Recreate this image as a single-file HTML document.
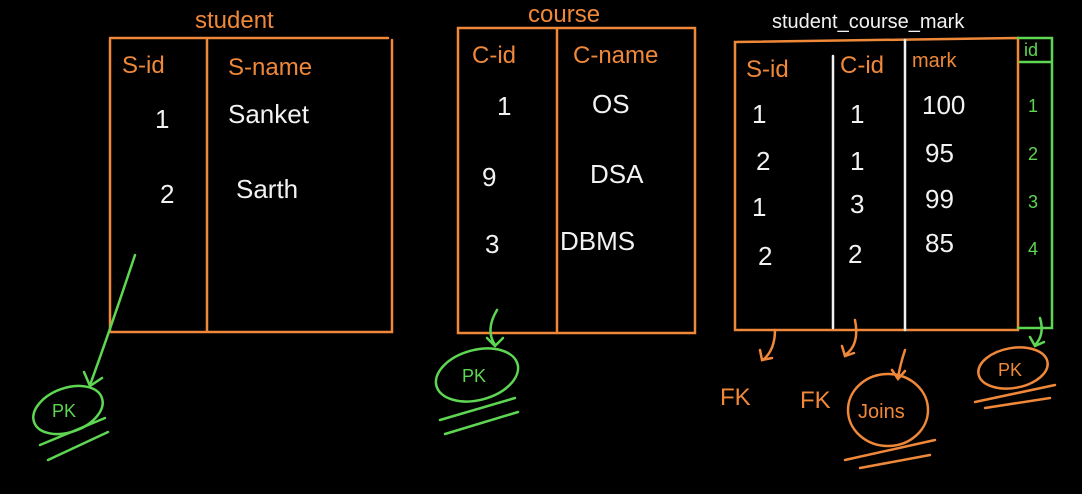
<!DOCTYPE html>
<html><head><meta charset="utf-8"><style>
html,body{margin:0;padding:0;background:#000;width:1082px;height:494px;overflow:hidden}
svg{display:block}
text{font-family:"Liberation Sans",sans-serif}
.o{stroke:#f0883a;fill:none;stroke-width:2.5;stroke-linecap:round}
.w{stroke:#f2f2f2;fill:none;stroke-width:2.5;stroke-linecap:round}
.g{stroke:#5ed653;fill:none;stroke-width:2.5;stroke-linecap:round}
.to{fill:#f0883a;font-size:24px}
.tw{fill:#f2f2f2;font-size:26px}
.tg{fill:#5ed653;font-size:18px}
</style></head><body>
<svg width="1082" height="494" viewBox="0 0 1082 494">
<!-- student table -->
<g>
<text class="to" x="195" y="28">student</text>
<path class="o" d="M110 38 L388 38 M110 40 L110 332 L392 332 L392 40 M207 40 L207 332"/>
<text class="to" x="122" y="73">S-id</text>
<text class="to" x="228" y="75">S-name</text>
<text class="tw" x="155" y="128">1</text><text class="tw" x="228" y="123">Sanket</text>
<text class="tw" x="160" y="203">2</text><text class="tw" x="236" y="198">Sarth</text>
<path class="g" d="M135 255 Q110 330 90 385 M84 372 L90 386 L102 378"/>
<ellipse class="g" cx="68" cy="410" rx="36" ry="22" transform="rotate(-20 68 410)"/>
<text class="tg" x="52" y="417">PK</text>
<path class="g" d="M40 445 L105 418 M48 460 L108 432"/>
</g>
<!-- course table -->
<g>
<text class="to" x="528" y="22">course</text>
<path class="o" d="M458 28 L695 28 L695 333 L458 333 Z M557 28 L557 333"/>
<text class="to" x="472" y="63">C-id</text>
<text class="to" x="573" y="63">C-name</text>
<text class="tw" x="497" y="115">1</text><text class="tw" x="592" y="113">OS</text>
<text class="tw" x="482" y="186">9</text><text class="tw" x="590" y="183">DSA</text>
<text class="tw" x="485" y="253">3</text><text class="tw" x="560" y="250">DBMS</text>
<path class="g" d="M497 310 Q485 330 495 345 M487 338 L495 346 L503 338"/>
<ellipse class="g" cx="477" cy="375" rx="42" ry="25" transform="rotate(-15 477 375)"/>
<text class="tg" x="462" y="382">PK</text>
<path class="g" d="M440 420 L515 398 M445 434 L518 412"/>
</g>
<!-- student_course_mark table -->
<g>
<text class="tw" style="font-size:20px" x="772" y="28">student_course_mark</text>
<path class="o" d="M735 42 L1018 38 L1018 330 L735 330 Z"/>
<path class="w" d="M833 56 L833 328 M905 40 L905 330"/>
<path class="g" d="M1018 38 L1052 38 L1052 328 L1018 328 M1020 62 L1052 62"/>
<text class="tg" x="1024" y="56">id</text>
<text class="to" x="746" y="77">S-id</text>
<text class="to" x="840" y="73">C-id</text>
<text class="to" x="912" y="67" style="font-size:20px">mark</text>
<text class="tw" x="752" y="123">1</text><text class="tw" x="850" y="123">1</text><text class="tw" x="922" y="114">100</text><text class="tg" x="1028" y="112">1</text>
<text class="tw" x="756" y="170">2</text><text class="tw" x="850" y="170">1</text><text class="tw" x="925" y="162">95</text><text class="tg" x="1028" y="160">2</text>
<text class="tw" x="752" y="216">1</text><text class="tw" x="850" y="213">3</text><text class="tw" x="925" y="208">99</text><text class="tg" x="1028" y="208">3</text>
<text class="tw" x="758" y="265">2</text><text class="tw" x="848" y="263">2</text><text class="tw" x="925" y="252">85</text><text class="tg" x="1028" y="255">4</text>
<path class="o" d="M775 330 Q775 350 763 360 M760 350 L762 360 L772 358"/>
<path class="o" d="M855 320 Q860 345 845 355 M842 346 L845 356 L854 353"/>
<path class="o" d="M905 350 Q900 365 898 378 M892 370 L898 379 L905 371"/>
<path class="g" d="M1040 318 Q1045 335 1035 345 M1030 337 L1035 346 L1044 342"/>
<text class="to" x="720" y="405">FK</text>
<text class="to" x="800" y="408">FK</text>
<ellipse class="o" cx="888" cy="410" rx="40" ry="36"/>
<text class="to" x="858" y="418" style="font-size:20px">Joins</text>
<path class="o" d="M845 460 L935 440 M860 468 L930 455"/>
<ellipse class="o" cx="1013" cy="368" rx="35" ry="20" transform="rotate(-10 1013 368)"/>
<text class="to" x="998" y="376" style="font-size:18px">PK</text>
<path class="o" d="M975 402 L1055 385 M985 408 L1050 398"/>
</g>
</svg>
</body></html>
